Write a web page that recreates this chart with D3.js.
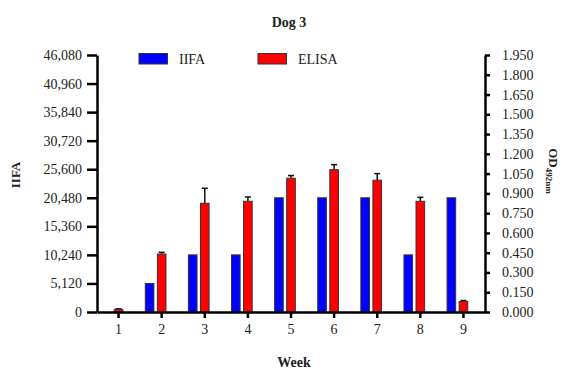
<!DOCTYPE html>
<html>
<head>
<meta charset="utf-8">
<script src="https://cdn.jsdelivr.net/npm/d3@7"></script>
<style>
  body { margin: 0; background: #fff; }
  text { font-family: "Liberation Serif", "Times New Roman", serif; fill: #222; }
</style>
</head>
<body>
<svg id="chart" width="563" height="369"></svg>
<script>
// data
var weeks = ['1', '2', '3', '4', '5', '6', '7', '8', '9'];
var iifa = [0, 5120, 10240, 10240, 20480, 20480, 20480, 10240, 20480];
var elisa = [0.02, 0.44, 0.825, 0.84, 1.015, 1.08, 1.0, 0.84, 0.08];
var elisaErr = [0.004, 0.013, 0.114, 0.033, 0.02, 0.038, 0.05, 0.03, 0.007];
var leftTicks = d3.range(0, 46081, 5120);
var rightTicks = d3.range(0, 13.5, 1).map(function(i) { return i * 0.15; });

var margin = {top: 55, right: 78, bottom: 57, left: 97},
    width = 563,
    height = 369,
    innerW = width - margin.left - margin.right,
    innerH = height - margin.top - margin.bottom;

var svg = d3.select('#chart');
var g = svg.append('g').attr('transform', 'translate(' + margin.left + ',' + margin.top + ')');

var x = d3.scaleBand().domain(weeks).range([0, innerW]);
var yL = d3.scaleLinear().domain([0, 46080]).range([innerH, 0]);
var yR = d3.scaleLinear().domain([0, 1.95]).range([innerH, 0]);

var barW = x.bandwidth() * 0.2,
    gap = x.bandwidth() * 0.08;

//------------------------------------------------------------
// Bars

g.selectAll('rect.iifa').data(iifa).enter().append('rect')
  .attr('class', 'iifa')
  .attr('x', function(d, i) { return x(weeks[i]) + x.bandwidth() / 2 - barW / 2 - gap - barW; })
  .attr('y', function(d) { return yL(d); })
  .attr('width', barW)
  .attr('height', function(d) { return innerH - yL(d); })
  .attr('fill', '#0000ff')
  .attr('stroke', function(d) { return d > 0 ? '#333' : 'none'; })
  .attr('stroke-width', 1);

// error bars behind red bars
g.selectAll('g.err').data(elisa).enter().append('g')
  .attr('class', 'err')
  .each(function(d, i) {
    var cx = x(weeks[i]) + x.bandwidth() / 2,
        top = yR(d + elisaErr[i]);
    d3.select(this).append('line')
      .attr('x1', cx).attr('x2', cx)
      .attr('y1', yR(d)).attr('y2', top)
      .attr('stroke', '#111').attr('stroke-width', 1.5);
    d3.select(this).append('line')
      .attr('x1', cx - 3).attr('x2', cx + 3)
      .attr('y1', top).attr('y2', top)
      .attr('stroke', '#111').attr('stroke-width', 1.5);
  });

g.selectAll('rect.elisa').data(elisa).enter().append('rect')
  .attr('class', 'elisa')
  .attr('x', function(d, i) { return x(weeks[i]) + x.bandwidth() / 2 - barW / 2; })
  .attr('y', function(d) { return yR(d); })
  .attr('width', barW)
  .attr('height', function(d) { return innerH - yR(d); })
  .attr('fill', '#ff0000')
  .attr('stroke', '#333')
  .attr('stroke-width', 1);

//------------------------------------------------------------
// Axes

var xAxis = g.append('g')
  .attr('transform', 'translate(0,' + innerH + ')')
  .call(d3.axisBottom(x).tickSize(6).tickPadding(6).tickSizeOuter(0));
var leftAxis = g.append('g')
  .call(d3.axisLeft(yL).tickValues(leftTicks).tickFormat(d3.format(',')).tickSize(10).tickPadding(5).tickSizeOuter(0));
var rightAxis = g.append('g')
  .attr('transform', 'translate(' + innerW + ',0)')
  .call(d3.axisRight(yR).tickValues(rightTicks).tickFormat(d3.format('.3f')).tickSize(5).tickPadding(12).tickSizeOuter(0));

[xAxis, leftAxis, rightAxis].forEach(function(a) {
  a.select('.domain').attr('stroke', '#000').attr('stroke-width', 2.5);
  a.selectAll('.tick line').attr('stroke', '#000').attr('stroke-width', 2.5);
  a.selectAll('.tick text')
    .attr('font-family', '"Liberation Serif", serif')
    .attr('font-size', 14)
    .attr('fill', '#222');
});

//------------------------------------------------------------
// Labels

svg.append('text')
  .attr('x', 289).attr('y', 27)
  .attr('text-anchor', 'middle')
  .attr('font-size', 14).attr('font-weight', 'bold')
  .text('Dog 3');

svg.append('text')
  .attr('transform', 'translate(20,175) rotate(-90)')
  .attr('text-anchor', 'middle')
  .attr('font-size', 13).attr('font-weight', 'bold')
  .text('IIFA');

var od = svg.append('text')
  .attr('transform', 'translate(549,171) rotate(90)')
  .attr('text-anchor', 'middle')
  .attr('font-size', 13).attr('font-weight', 'bold');
od.append('tspan').text('OD');
od.append('tspan').attr('font-size', 9).attr('dy', 3).text('492nm');

svg.append('text')
  .attr('x', 294).attr('y', 367)
  .attr('text-anchor', 'middle')
  .attr('font-size', 14).attr('font-weight', 'bold')
  .text('Week');

// legend
var legend = [{name: 'IIFA', color: '#0000ff', x: 139}, {name: 'ELISA', color: '#ff0000', x: 258}];
var lg = svg.selectAll('g.legend').data(legend).enter().append('g')
  .attr('class', 'legend')
  .attr('transform', function(d) { return 'translate(' + d.x + ',53.5)'; });
lg.append('rect')
  .attr('width', 28.5).attr('height', 10.5)
  .attr('fill', function(d) { return d.color; })
  .attr('stroke', '#333').attr('stroke-width', 1);
lg.append('text')
  .attr('x', 40).attr('y', 10.5)
  .attr('font-size', 14)
  .text(function(d) { return d.name; });
</script>
</body>
</html>
